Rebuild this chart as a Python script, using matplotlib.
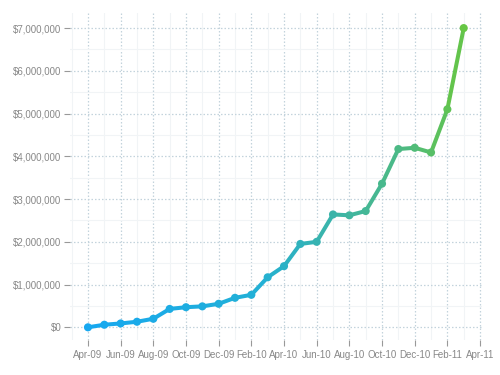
import numpy as np
import matplotlib
matplotlib.use("Agg")
import matplotlib.pyplot as plt
from matplotlib.collections import LineCollection
from matplotlib.colors import LinearSegmentedColormap
from matplotlib.ticker import FuncFormatter, MultipleLocator

plt.rcParams['font.family'] = ['Liberation Sans', 'DejaVu Sans']

months = ["Apr-09", "May-09", "Jun-09", "Jul-09", "Aug-09", "Sep-09", "Oct-09", "Nov-09",
          "Dec-09", "Jan-10", "Feb-10", "Mar-10", "Apr-10", "May-10", "Jun-10", "Jul-10",
          "Aug-10", "Sep-10", "Oct-10", "Nov-10", "Dec-10", "Jan-11", "Feb-11", "Mar-11"]
values = [0, 60000, 90000, 130000, 200000, 430000, 470000, 490000,
          550000, 690000, 760000, 1170000, 1430000, 1950000, 2000000, 2640000,
          2620000, 2720000, 3360000, 4170000, 4200000, 4090000, 5100000, 7000000]
tick_labels = ["Apr-09", "Jun-09", "Aug-09", "Oct-09", "Dec-09", "Feb-10", "Apr-10",
               "Jun-10", "Aug-10", "Oct-10", "Dec-10", "Feb-11", "Apr-11"]
y_ticks = [0, 1000000, 2000000, 3000000, 4000000, 5000000, 6000000, 7000000]

fig = plt.figure(figsize=(5, 3.75), dpi=100)
ax = fig.add_axes([0.14, 0.093, 0.824, 0.872])

x = np.arange(len(values))
y = np.array(values, dtype=float)

cmap = LinearSegmentedColormap.from_list(
    "g", [(0.0, "#17a8f0"), (0.45, "#22b0d6"), (0.65, "#3bb4a9"),
          (0.85, "#4eba80"), (1.0, "#66c644")])
t = x / x.max()

pts = np.column_stack([x, y]).reshape(-1, 1, 2)
segs = np.concatenate([pts[:-1], pts[1:]], axis=1)
lc = LineCollection(segs, colors=cmap((t[:-1] + t[1:]) / 2), linewidths=2.9,
                    capstyle='round', joinstyle='round', zorder=3)
ax.add_collection(lc)
ax.scatter(x, y, s=34, c=cmap(t), zorder=4, linewidths=0)

ax.set_xlim(-1.1, 24.12)
ax.set_ylim(-300000, 7350000)

ax.set_xticks(np.arange(0, 25, 2))
ax.set_xticklabels(tick_labels)
ax.xaxis.set_minor_locator(MultipleLocator(1))
ax.set_yticks(y_ticks)
ax.yaxis.set_major_formatter(FuncFormatter(lambda v, p: "${:,.0f}".format(v)))
ax.yaxis.set_minor_locator(MultipleLocator(500000))

for s in ax.spines.values():
    s.set_visible(False)

ax.grid(which='major', color='#c3d3dc', linestyle=(0, (1.2, 1.6)), linewidth=0.9)
ax.grid(which='minor', color='#f1f4f6', linestyle='-', linewidth=0.8)
ax.set_axisbelow(True)

ax.tick_params(axis='both', which='major', labelsize=7, colors='#999999',
               labelcolor='#888888', length=4, width=0.8)
ax.tick_params(axis='y', which='major', pad=2)
ax.tick_params(axis='x', which='major', pad=3)
ax.tick_params(which='minor', length=0)

fig.savefig("out.png", dpi=100)
